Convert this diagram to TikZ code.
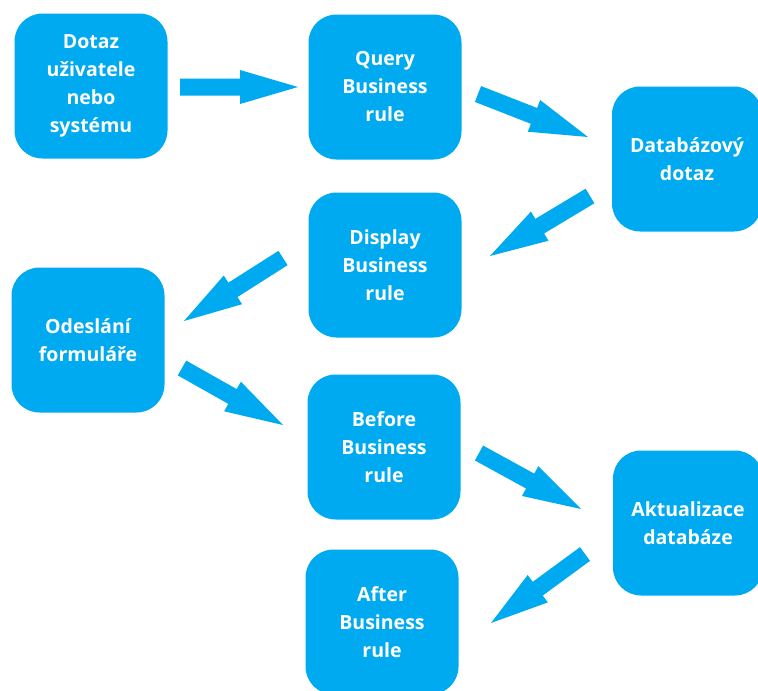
\documentclass[tikz,border=0pt]{standalone}
\usepackage{fontspec}
\setmainfont{Open Sans}
\usetikzlibrary{calc}
\definecolor{boxblue}{RGB}{0,170,240}
\tikzset{
  flowbox/.style={fill=boxblue, draw=none, rounded corners=28pt, minimum width=153pt,
    minimum height=145pt, inner sep=0pt, text=white, align=center,
    font=\fontsize{19.5}{28}\selectfont\bfseries},
  arrowfill/.style={fill=boxblue, draw=none}
}
\newcommand{\blockarr}[2]{%
  \coordinate (bh) at ($(#2)!58pt!(#1)$);
  \fill[arrowfill] ($(#1)!8.5pt!90:(#2)$) -- ($(bh)!8.5pt!90:(#2)$) -- ($(bh)!17pt!90:(#2)$)
    -- (#2) -- ($(bh)!17pt!-90:(#2)$) -- ($(bh)!8.5pt!-90:(#2)$) -- ($(#1)!8.5pt!-90:(#2)$) -- cycle;}
\begin{document}
\begin{tikzpicture}[x=1pt,y=-1pt]
\useasboundingbox (0,0) rectangle (758,691);
\node[flowbox] (b1) at (91,86) {Dotaz\\uživatele\\nebo\\systému};
\node[flowbox] (b2) at (385,87) {Query\\Business\\rule};
\node[flowbox, minimum width=150pt] (b3) at (687,159) {Databázový\\dotaz};
\node[flowbox] (b4) at (385,265) {Display\\Business\\rule};
\node[flowbox] (b5) at (88,340) {Odeslání\\formuláře};
\node[flowbox] (b6) at (384,447) {Before\\Business\\rule};
\node[flowbox, minimum width=150pt] (b7) at (688,523) {Aktualizace\\databáze};
\node[flowbox] (b8) at (382,622) {After\\Business\\rule};
% arrow end points
\coordinate (a1s) at ($(b1.center)+(89,1)$);  \coordinate (a1e) at ($(b2.center)+(-87,0)$);
\coordinate (a2s) at ($(b2.center)+(93,7)$);  \coordinate (a2e) at ($(b3.center)+(-99,-22)$);
\coordinate (a3s) at ($(b3.center)+(-97,37)$); \coordinate (a3e) at ($(b4.center)+(105,-9)$);
\coordinate (a4s) at ($(b4.center)+(-102,-7)$); \coordinate (a4e) at ($(b5.center)+(96,-19)$);
\coordinate (a5s) at ($(b5.center)+(94,28)$); \coordinate (a5e) at ($(b6.center)+(-101,-22)$);
\coordinate (a6s) at ($(b6.center)+(95,6)$);  \coordinate (a6e) at ($(b7.center)+(-107,-14)$);
\coordinate (a7s) at ($(b7.center)+(-103,31)$); \coordinate (a7e) at ($(b8.center)+(109,1)$);
\blockarr{a1s}{a1e}
\blockarr{a2s}{a2e}
\blockarr{a3s}{a3e}
\blockarr{a4s}{a4e}
\blockarr{a5s}{a5e}
\blockarr{a6s}{a6e}
\blockarr{a7s}{a7e}
\end{tikzpicture}
\end{document}
